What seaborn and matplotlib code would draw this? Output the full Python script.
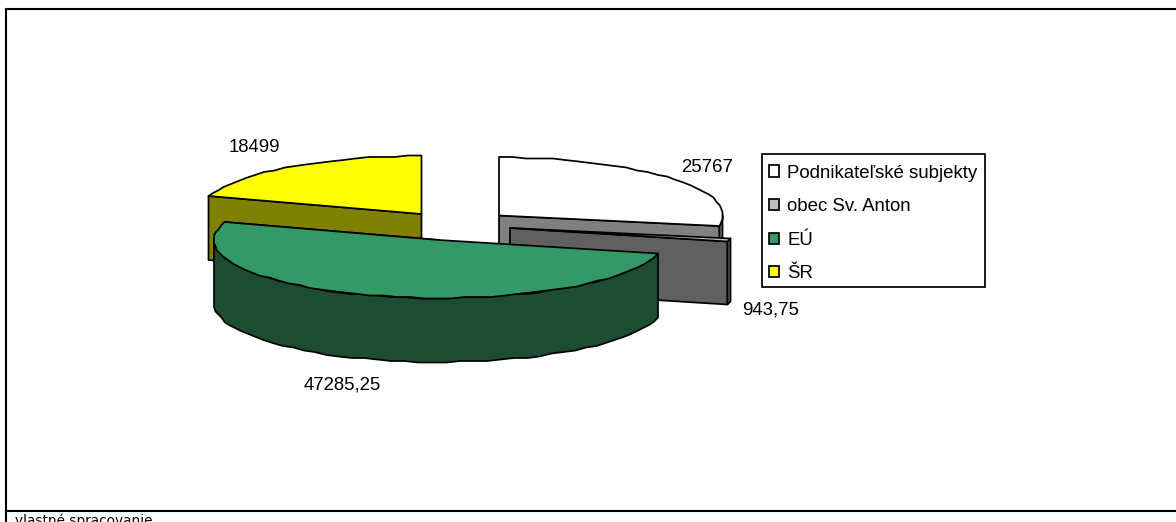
import numpy as np
import matplotlib
matplotlib.use("Agg")
import matplotlib.pyplot as plt
from matplotlib.patches import Patch, Rectangle
import seaborn as sns

# --- data ---
categories = ["Podnikateľské subjekty", "obec Sv. Anton", "EÚ", "ŠR"]
values = [25767, 943.75, 47285.25, 18499]
value_labels = ["25767", "943,75", "47285,25", "18499"]
source_note = "vlastné spracovanie"

# --- style / layout ---
top_colors = ["#FFFFFF", "#C0C0C0", "#339966", "#FFFF00"]
side_colors = ["#808080", "#606060", "#1C4D33", "#808000"]
centers = [(499, 215.5), (510, 228), (439, 240), (421.5, 214)]
radii = [224, 224, 225, 224]
depths = [30, 63, 64, 64]
label_pos = [(707, 167), (770.5, 310), (342, 385), (254, 147.5)]
RY = 58
STEP = 3.5
GRID = 1.5
draw_order = [3, 0, 1, 2]

sns.set_theme(style="white")
plt.rcParams["font.family"] = ["Liberation Sans", "DejaVu Sans"]

fig = plt.figure(figsize=(11.76, 5.22), dpi=100)
ax = fig.add_axes([0, 0, 1, 1])
ax.set_xlim(0, 1176)
ax.set_ylim(522, 0)
ax.axis("off")

frac = np.array(values) / np.sum(values)
edges = np.concatenate([[0], np.cumsum(frac) * 360.0])


def arc(c, rx, a0, a1):
    n = max(int(round((a1 - a0) / STEP)), 1)
    t = np.radians(np.linspace(a0, a1, n + 1))
    # the original chart's outline is a slightly stepped polygon
    x = np.round((rx * np.sin(t)) / GRID) * GRID
    y = np.round((-RY * np.cos(t)) / GRID) * GRID
    return c[0] + x, c[1] + y


def poly(x, y, color):
    ax.fill(x, y, facecolor=color, edgecolor="black", linewidth=1.25, joinstyle="round")


for i in draw_order:
    a0, a1 = edges[i], edges[i + 1]
    c, rx, d = centers[i], radii[i], depths[i]
    # cut face that turns towards the viewer
    a_cut = a0 if a0 > 180 else a1
    if a_cut != 360:
        xe, ye = arc(c, rx, a_cut, a_cut)
        xs = [c[0], xe[0], xe[0], c[0]]
        ys = [c[1], ye[0], ye[0] + d, c[1] + d]
        poly(xs, ys, side_colors[i])
    # visible part of the rim
    lo, hi = max(a0, 90), min(a1, 270)
    if hi > lo:
        xa, ya = arc(c, rx, lo, hi)
        poly(np.r_[xa, xa[::-1]], np.r_[ya, ya[::-1] + d], side_colors[i])
    # top surface
    xa, ya = arc(c, rx, a0, a1)
    poly(np.r_[c[0], xa], np.r_[c[1], ya], top_colors[i])

for txt, (lx, ly) in zip(value_labels, label_pos):
    ax.text(lx, ly, txt, fontsize=13.4, color="black", ha="center", va="center")

ax.add_patch(Rectangle((762, 153.5), 223, 133.5, facecolor="white", edgecolor="black",
                       linewidth=1.25, zorder=4))
handles = [Patch(facecolor=col, edgecolor="black", linewidth=1.25) for col in top_colors]
leg = ax.legend(handles, categories, loc="upper left", bbox_to_anchor=(762, 157.5),
                bbox_transform=ax.transData, fontsize=13.4, frameon=False,
                handlelength=0.55, handleheight=0.55,
                handletextpad=0.44, labelspacing=0.89, borderpad=0.38, borderaxespad=0,
                labelcolor="black")
leg.set_zorder(5)

# outer frame of the page cell
ax.plot([5, 1176], [9, 9], color="black", lw=1.5, solid_capstyle="butt")
ax.plot([6, 6], [8, 522], color="black", lw=1.5, solid_capstyle="butt")
ax.plot([6, 1176], [510.5, 510.5], color="black", lw=1.5, solid_capstyle="butt")
ax.text(15, 521, source_note, fontsize=9.8, family=["DejaVu Sans"], va="center", ha="left",
        color="black")

fig.savefig("out.png", dpi=100, facecolor="white")
